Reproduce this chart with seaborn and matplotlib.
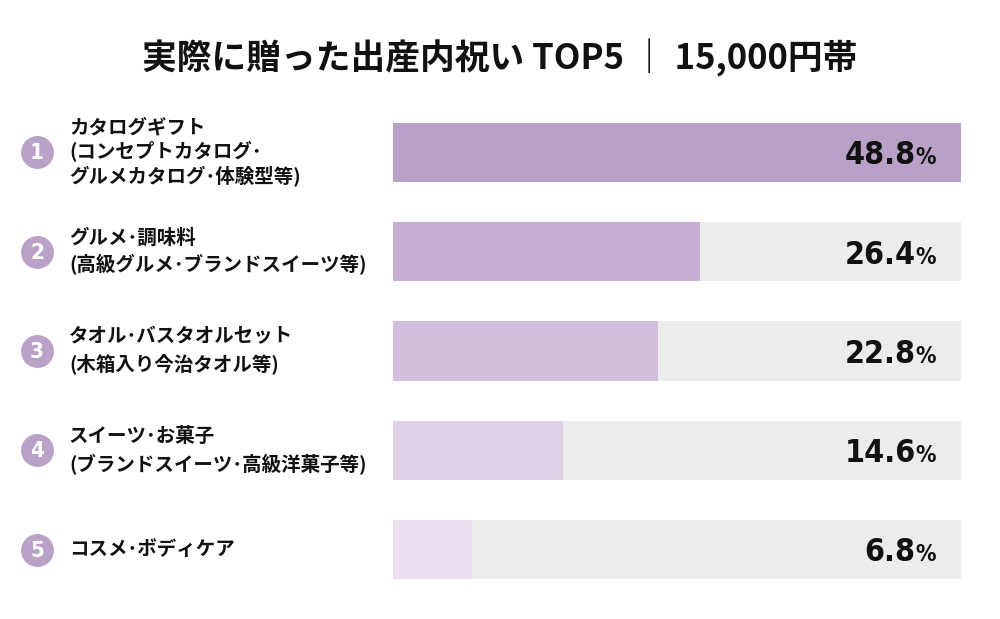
import matplotlib
matplotlib.use("Agg")
import matplotlib.pyplot as plt
import matplotlib.transforms as mtransforms
import seaborn as sns
import pandas as pd

# ---- data ----
ranks = ["1", "2", "3", "4", "5"]
labels = [
    "カタログギフト\n(コンセプトカタログ･\nグルメカタログ･体験型等)",
    "グルメ･調味料\n(高級グルメ･ブランドスイーツ等)",
    "タオル･バスタオルセット\n(木箱入り今治タオル等)",
    "スイーツ･お菓子\n(ブランドスイーツ･高級洋菓子等)",
    "コスメ･ボディケア",
]
values = [48.8, 26.4, 22.8, 14.6, 6.8]
value_numbers = ["48.8", "26.4", "22.8", "14.6", "6.8"]
title = "実際に贈った出産内祝い TOP5 ｜ 15,000円帯"

bar_colors = ["#b9a0c7", "#c6afd3", "#d1bfdd", "#e0d2e6", "#e9dfee"]
track_color = "#ececec"
circle_color = "#b9a1c8"

sns.set_theme(style="white")
plt.rcParams["font.family"] = ["Noto Sans CJK JP", "DejaVu Sans"]

df = pd.DataFrame({"rank": ranks, "label": labels, "value": values,
                   "track": [max(values)] * len(values)})

fig = plt.figure(figsize=(10, 6.19), dpi=100)
ax = fig.add_axes([0.393, 0.032, 0.568, 0.802])

bw = 0.595
sns.barplot(data=df, x="track", y="rank", color=track_color, width=bw,
            ax=ax, saturation=1, edgecolor="none")
sns.barplot(data=df, x="value", y="rank", hue="rank", palette=bar_colors,
            width=bw, ax=ax, saturation=1, legend=False, edgecolor="none")

ax.set_xlim(0, max(values))
ax.set_ylim(4.5, -0.5)
ax.set_axis_off()

blend = mtransforms.blended_transform_factory(fig.transFigure, ax.transData)

# circles with rank numbers
ax.scatter([0.037] * len(ranks), range(len(ranks)), s=560, color=circle_color,
           transform=blend, clip_on=False, zorder=5, linewidths=0)
for i, r in enumerate(ranks):
    ax.text(0.037, i + 0.01, r, transform=blend, ha="center", va="center",
            color="white", fontsize=16, fontweight="bold",
            family="DejaVu Sans", fontstretch="condensed", zorder=6)

# category labels
for i, lab in enumerate(labels):
    ax.text(0.069, i, lab, transform=blend, ha="left", va="center",
            fontsize=14, fontweight="bold", color="#111111",
            linespacing=1.22 if lab.count("\n") > 1 else 1.4)

fig.text(0.5, 1 - 58 / 619, title, ha="center", va="center", fontsize=25,
         fontweight="bold", color="#111111")

# value labels: number + smaller percent sign placed right after it
fig.canvas.draw()
renderer = fig.canvas.get_renderer()
inv = fig.transFigure.inverted()
for i, vn in enumerate(value_numbers):
    pct = ax.text(0.936, i + 0.12, "%", transform=blend, ha="right",
                  va="baseline", fontsize=16.5, fontweight="bold",
                  color="#111111", family="DejaVu Sans",
                  fontstretch="condensed")
    bb = pct.get_window_extent(renderer=renderer)
    x_left = inv.transform((bb.x0, 0))[0]
    ax.text(x_left, i + 0.12, vn, transform=blend, ha="right",
            va="baseline", fontsize=23, fontweight="bold", color="#111111",
            family="DejaVu Sans", fontstretch="condensed")

fig.savefig("out.png", dpi=100, facecolor="white")
